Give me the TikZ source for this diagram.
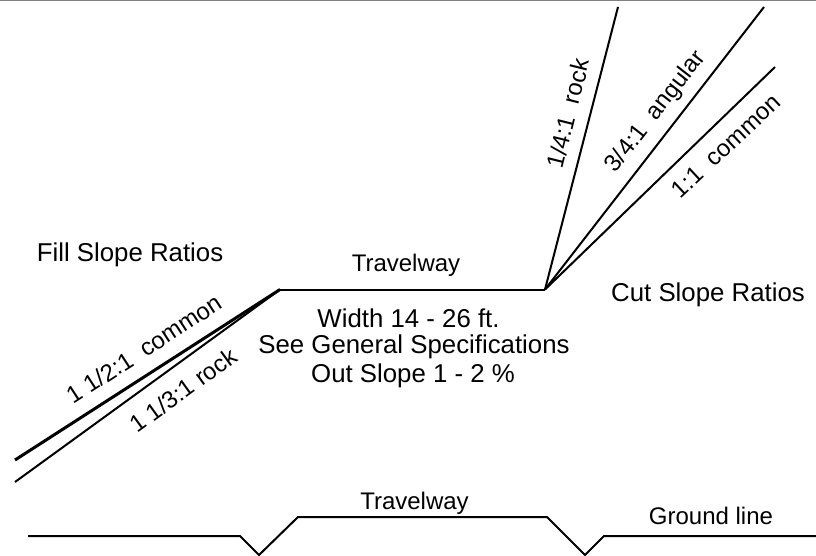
\documentclass[tikz,border=0pt]{standalone}
\usepackage{fontspec}
\setmainfont{Liberation Sans}
\tikzset{
  lbl/.style={inner sep=0pt,font=\fontsize{24}{28}\selectfont},
  biglbl/.style={inner sep=0pt,font=\fontsize{25.8}{30}\selectfont},
  road/.style={line width=2pt,line join=miter,black},
  slope/.style={line width=2pt,black},
  heavy/.style={line width=3pt,black},
  topedge/.style={line width=2pt,gray}
}
\begin{document}
\begin{tikzpicture}[x=1pt,y=-1pt]
\useasboundingbox (0,0) rectangle (816,556);
\coordinate (tl) at (0,0.5);
\coordinate (tr) at (816,0.5);
\draw[topedge] (tl) -- (tr);
\coordinate (A) at (280,289.5);
\coordinate (B) at (545,289.5);
\coordinate (f1) at (15,460);
\coordinate (f2) at (15,482);
\coordinate (c1) at (618,7);
\coordinate (c2) at (764,7);
\coordinate (c3) at (775,67);
\draw[road] (A) -- (B);
\draw[heavy] (A) -- (f1);
\draw[slope] (A) -- (f2);
\draw[slope] (B) -- (c1);
\draw[slope] (B) -- (c2);
\draw[slope] (B) -- (c3);
\coordinate (g0) at (28,536);
\coordinate (g1) at (240,536);
\coordinate (g2) at (259,555);
\coordinate (g3) at (298,517);
\coordinate (g4) at (547,517);
\coordinate (g5) at (585,555);
\coordinate (g6) at (604,536);
\coordinate (g7) at (816,536);
\draw[road] (g0) -- (g1) -- (g2) -- (g3) -- (g4) -- (g5) -- (g6) -- (g7);
\node[biglbl] (fill) at (130,254.5) {Fill Slope Ratios};
\node[biglbl] (cut) at (708,294.5) {Cut Slope Ratios};
\node[lbl] (tw1) at (406,265) {Travelway};
\node[biglbl] (w1) at (408.5,318) {Width 14 - 26 ft.};
\node[biglbl] (w2) at (414,346.5) {See General Specifications};
\node[biglbl] (w3) at (413,375.5) {Out Slope 1 - 2 \%};
\node[lbl] (tw2) at (414.5,503.5) {Travelway};
\node[lbl] (gl) at (711,516) {Ground line};
\node[lbl,rotate=33] (s1) at (144,349) {1 1/2:1\ \ common};
\node[lbl,rotate=36] (s2) at (183,390) {1 1/3:1 rock};
\node[lbl,rotate=76] (s3) at (568,113.5) {1/4:1\ \ rock};
\node[lbl,rotate=52] (s4) at (656,112) {3/4:1\ \ angular};
\node[lbl,rotate=43] (s5) at (726,146) {1:1\ \ common};
\end{tikzpicture}
\end{document}
